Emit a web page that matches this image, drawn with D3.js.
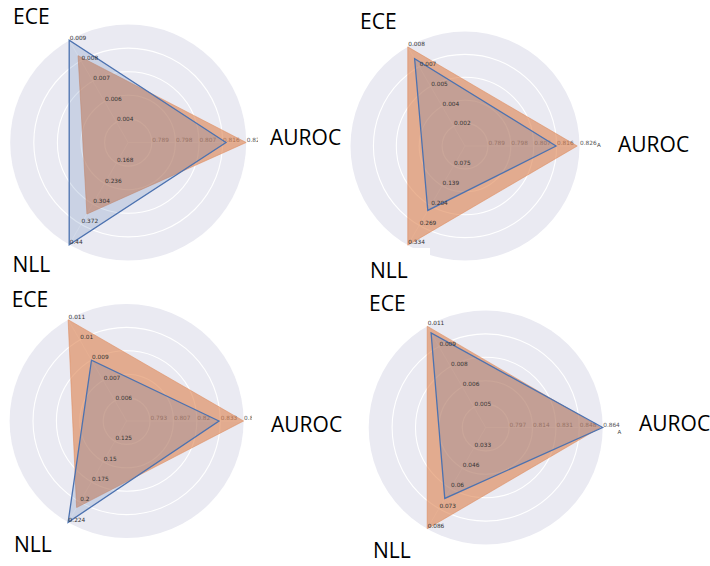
<!DOCTYPE html>
<html><head><meta charset="utf-8">
<script src="https://cdn.jsdelivr.net/npm/d3@7"></script>
<style>body{margin:0;background:#fff;} svg{display:block;}</style>
</head><body>
<svg id="chart" width="710" height="566"></svg>
<script>
// ---- data ----
const axisNames = ["AUROC", "ECE", "NLL"];
const aurocDomains = [[0.780, 0.825], [0.7796, 0.8256], [0.780, 0.8465], [0.7802, 0.8642]];
const eceDomains   = [[0.0032, 0.0092], [0.0006, 0.0081], [0.0046, 0.01135], [0.0034, 0.0109]];
const nllDomains   = [[0.100, 0.440], [0.010, 0.334], [0.100, 0.224], [0.0197, 0.086]];
const aurocTicks = [["0.789","0.798","0.807","0.816","0.825"],
                    ["0.789","0.798","0.807","0.816","0.826"],
                    ["0.793","0.807","0.82","0.833","0.847"],
                    ["0.797","0.814","0.831","0.848","0.864"]];
const eceTicks = [["0.004","0.006","0.007","0.008","0.009"],
                  ["0.002","0.004","0.005","0.007","0.008"],
                  ["0.006","0.007","0.009","0.01","0.011"],
                  ["0.005","0.006","0.008","0.009","0.011"]];
const nllTicks = [["0.168","0.236","0.304","0.372","0.44"],
                  ["0.075","0.139","0.204","0.269","0.334"],
                  ["0.125","0.15","0.175","0.2","0.224"],
                  ["0.033","0.046","0.06","0.073","0.086"]];
// values per panel: [AUROC, ECE, NLL]
const blueValues   = [[0.8173, 0.0092, 0.440], [0.8162, 0.0072, 0.2206], [0.8325, 0.00865, 0.224], [0.8642, 0.0104, 0.0661]];
const orangeValues = [[0.825, 0.0083, 0.338], [0.8247, 0.0081, 0.334], [0.8465, 0.01135, 0.206], [0.8625, 0.0109, 0.086]];

// ---- layout ----
const centers = [[128.2, 142.5], [465, 146], [126.6, 421], [485.7, 427.5]];
const radii = [118, 114.5, 117, 117];
const clips = [[0, 0, 258, 288], [300, 0, 410, 288], [0, 288, 252, 278], [330, 288, 380, 278]];
const bigLabelPos = [
  [[270, 145], [13, 23.5], [12.5, 272]],
  [[618, 151.5], [360, 29], [370, 278]],
  [[271, 431.5], [11.7, 307], [14, 552]],
  [[639, 431], [369, 310.5], [373, 558]]
];
const GRAY = "#EAEAF2", BLUE = "#4C72B0", ORANGE = "#DD8452";
const thetaDeg = [0, 120, 240];

const svg = d3.select("#chart");
const defs = svg.append("defs");

for (let i = 0; i < 4; i++) {
  const [cx, cy] = centers[i];
  const R = radii[i];
  const c = clips[i];
  defs.append("clipPath").attr("id", "clip" + i)
    .append("rect").attr("x", c[0]).attr("y", c[1]).attr("width", c[2]).attr("height", c[3]);
  const g = svg.append("g").attr("clip-path", `url(#clip${i})`);
  const p = g.append("g").attr("transform", `translate(${cx},${cy})`);

  const scales = [aurocDomains[i], eceDomains[i], nllDomains[i]]
    .map(dom => d3.scaleLinear().domain(dom).range([0, R]));
  const ring = d3.scaleLinear().domain([0, 5]).range([0, R]);
  const ticksAll = [aurocTicks[i], eceTicks[i], nllTicks[i]];

  p.append("circle").attr("r", R).attr("fill", GRAY);
  p.selectAll("circle.ring").data(d3.range(1, 5)).join("circle")
    .attr("class", "ring").attr("r", d => ring(d))
    .attr("fill", "none").attr("stroke", "#fff").attr("stroke-width", 1.1);
  p.selectAll("line.spoke").data(thetaDeg).join("line")
    .attr("class", "spoke")
    .attr("x2", d => R * Math.cos(d * Math.PI / 180))
    .attr("y2", d => -R * Math.sin(d * Math.PI / 180))
    .attr("stroke", "#fff").attr("stroke-opacity", 0.6).attr("stroke-width", 0.8);

  const tickText = (sel, axisIdx, color) => {
    const th = thetaDeg[axisIdx] * Math.PI / 180;
    sel.selectAll(null).data(ticksAll[axisIdx]).join("text")
      .attr("x", (d, k) => ring(k + 1) * Math.cos(th) + 0.5)
      .attr("y", (d, k) => -ring(k + 1) * Math.sin(th) - 0.8)
      .attr("font-family", "DejaVu Sans, sans-serif")
      .attr("font-size", 5.8)
      .attr("fill", color)
      .text(d => d);
  };
  // AUROC labels under the fills
  tickText(p, 0, "#555");

  const radial = vals => d3.lineRadial()
    .angle((d, k) => Math.PI / 2 - thetaDeg[k] * Math.PI / 180)
    .radius((d, k) => scales[k](d))
    .curve(d3.curveLinearClosed)(vals);

  p.append("path").attr("d", radial(orangeValues[i]))
    .attr("fill", ORANGE).attr("fill-opacity", 0.62)
    .attr("stroke", ORANGE).attr("stroke-opacity", 0.5).attr("stroke-width", 1);
  p.append("path").attr("d", radial(blueValues[i]))
    .attr("fill", BLUE).attr("fill-opacity", 0.2)
    .attr("stroke", BLUE).attr("stroke-width", 1.3).attr("stroke-linejoin", "miter");

  tickText(p, 1, "#333");
  tickText(p, 2, "#333");
}

// white patch covering the hidden NLL label (panel 2)
svg.append("rect").attr("x", 378).attr("y", 248).attr("width", 52).attr("height", 14).attr("fill", "#fff");
// remnants of the hidden AUROC labels
svg.append("text").attr("x", 597).attr("y", 147).attr("font-family", "DejaVu Sans, sans-serif")
  .attr("font-size", 5.5).attr("fill", "#444").text("A");
svg.append("text").attr("x", 617.5).attr("y", 434).attr("font-family", "DejaVu Sans, sans-serif")
  .attr("font-size", 5.5).attr("fill", "#444").text("A");

// big axis titles
for (let i = 0; i < 4; i++) {
  svg.append("g").selectAll("text").data(axisNames).join("text")
    .attr("x", (d, k) => bigLabelPos[i][k][0])
    .attr("y", (d, k) => bigLabelPos[i][k][1])
    .attr("font-family", "Open Sans, sans-serif")
    .attr("font-size", 21)
    .attr("fill", "#000")
    .text(d => d);
}
</script>
</body></html>
